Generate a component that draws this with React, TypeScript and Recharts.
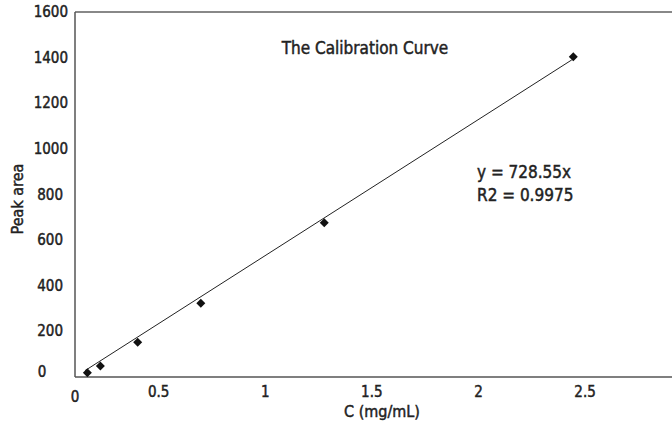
import React from "react"
import { ScatterChart, Scatter, XAxis, YAxis, ReferenceLine, Customized } from "recharts"

// concentration (mg/mL) and peak area
const concentrations = [0.058, 0.119, 0.294, 0.59, 1.169, 2.337]
const peakAreas = [19, 48, 152, 323, 676, 1404]

// trendline ends as drawn
const trendX = [0.047, 2.33]
const trendY = [28, 1390]

const xTicks = [0, 0.5, 1, 1.5, 2, 2.5]
const yTicks = [0, 200, 400, 600, 800, 1000, 1200, 1400, 1600]

const title = "The Calibration Curve"
const equation = "y = 728.55x"
const rSquared = "R2 = 0.9975"

const points = concentrations.map((c, i) => ({ x: c, y: peakAreas[i] }))
const trend = trendX.map((x, i) => ({ x, y: trendY[i] }))

const font = "'DejaVu Sans Condensed', 'Liberation Sans Narrow', sans-serif"
const ink = "#222"
const heavy = { stroke: ink, strokeWidth: 0.45 }

const Diamond = (props: any) => {
  const { cx, cy } = props
  const r = 4.5
  return <polygon points={`${cx},${cy - r} ${cx + r},${cy} ${cx},${cy + r} ${cx - r},${cy}`} fill="#111" />
}

const XTick = ({ x, y, payload }: any) => {
  const zero = payload.value === 0
  return (
    <text x={zero ? x : x - 23} y={zero ? y + 17 : y + 12} textAnchor="middle" fontSize={15} fill={ink} fontFamily={font} {...heavy}>
      {payload.value}
    </text>
  )
}

const YTick = ({ x, y, payload }: any) => {
  const zero = payload.value === 0
  const top = payload.value >= 1000
  return (
    <text x={zero ? 42 : top ? 68 : 63} y={zero ? y : y + 5} textAnchor={zero ? "middle" : "end"} fontSize={15} fill={ink} fontFamily={font} {...heavy}>
      {payload.value}
    </text>
  )
}

const Texts = () => (
  <g fontFamily={font} fill={ink} {...heavy}>
    <text x={365} y={54} textAnchor="middle" fontSize={17}>{title}</text>
    <text x={477} y={178} fontSize={17}>{equation}</text>
    <text x={477} y={201} fontSize={17}>{rSquared}</text>
    <text x={382} y={417} textAnchor="middle" fontSize={16}>C (mg/mL)</text>
    <text transform="translate(23,199) rotate(-90)" textAnchor="middle" fontSize={16}>Peak area</text>
  </g>
)

export default function App() {
  return (
    <div style={{ position: "fixed", left: 0, top: 0, background: "#fff" }}>
      <ScatterChart width={672} height={421} margin={{ top: 12, right: 0, bottom: 0, left: 0 }}>
        <XAxis
          type="number"
          dataKey="x"
          domain={[0, 2.8]}
          ticks={xTicks}
          height={44}
          tick={<XTick />}
          tickLine={false}
          axisLine={{ stroke: "#555", strokeWidth: 1.5 }}
        />
        <YAxis
          type="number"
          dataKey="y"
          domain={[0, 1600]}
          ticks={yTicks}
          width={75}
          tick={<YTick />}
          tickLine={false}
          axisLine={{ stroke: "#555", strokeWidth: 1.5 }}
        />
        <ReferenceLine y={1600} stroke="#888" strokeWidth={2} />
        <Scatter
          data={trend}
          line={{ stroke: ink, strokeWidth: 1 }}
          shape={() => <g />}
          isAnimationActive={false}
        />
        <Scatter data={points} shape={<Diamond />} isAnimationActive={false} />
        <Customized component={Texts} />
      </ScatterChart>
    </div>
  )
}
